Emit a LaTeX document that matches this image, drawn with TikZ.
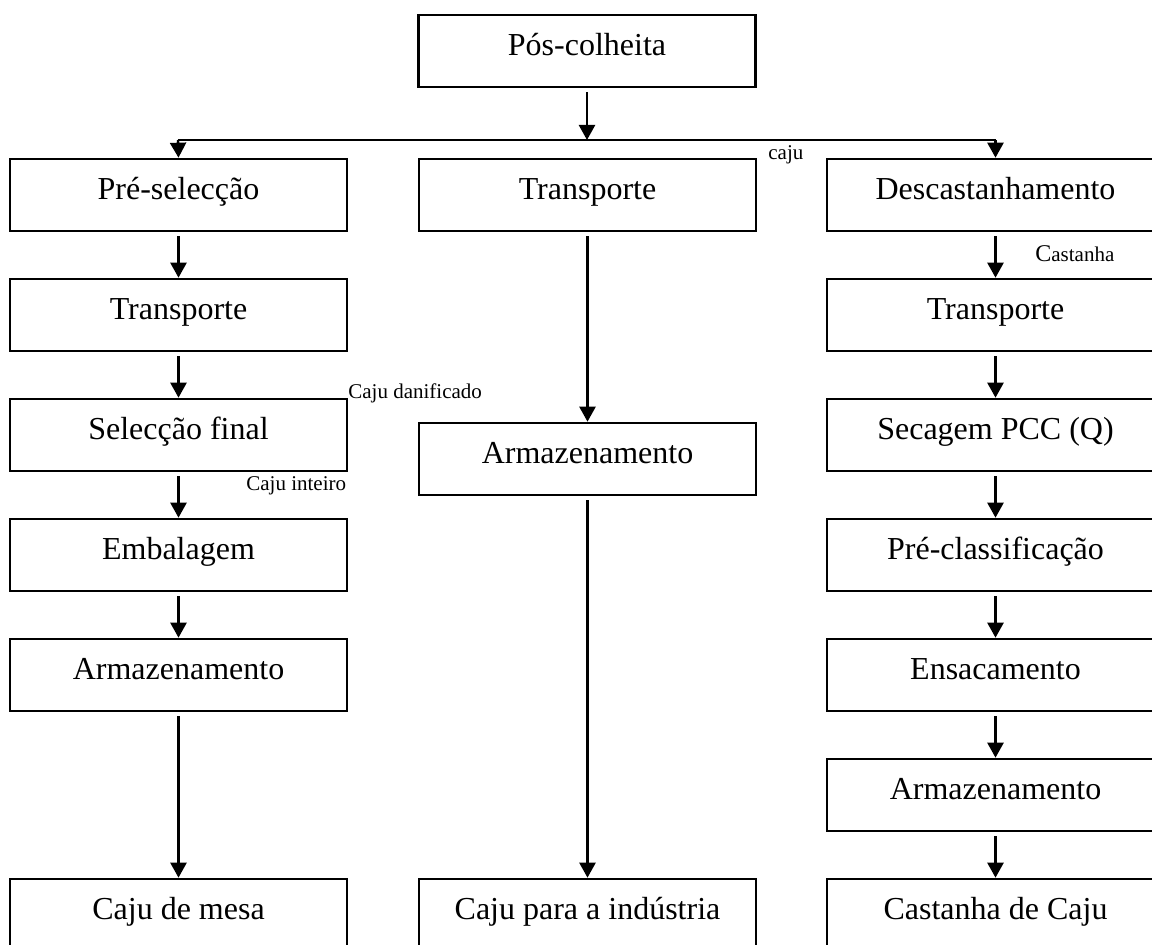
\documentclass[tikz,border=0pt]{standalone}
\usepackage{fontspec}
\setmainfont{Liberation Serif}
\usetikzlibrary{arrows.meta}
\begin{document}
\begin{tikzpicture}[x=0.5pt,y=-0.5pt,
  box/.style={draw,line width=1.3pt,minimum width=168.5pt,minimum height=36pt,inner sep=0pt,
    font=\fontsize{16}{19}\selectfont,text height=10.5pt,text depth=5.5pt},
  arr/.style={line width=1.2pt,-{Triangle[width=8pt,length=7.5pt]}},
  lbl/.style={font=\fontsize{10.5}{12}\selectfont,anchor=base west,inner sep=0pt}]
\useasboundingbox (0,0) rectangle (1152,945);
\clip (0,0) rectangle (1152,945);
% top
\node[box] (pos) at (587,51) {Pós-colheita};
\coordinate (split) at (587,140);
% left column
\node[box] (pre)  at (178.5,195) {Pré-selecção};
\node[box] (tl)   at (178.5,315) {Transporte};
\node[box] (self) at (178.5,435) {Selecção final};
\node[box] (emb)  at (178.5,555) {Embalagem};
\node[box] (arml) at (178.5,675) {Armazenamento};
\node[box] (mesa) at (178.5,915) {Caju de mesa};
% middle column
\node[box] (tm)   at (587.5,195) {Transporte};
\node[box] (armm) at (587.5,459) {Armazenamento};
\node[box] (ind)  at (587.5,915) {Caju para a indústria};
% right column
\node[box] (desc) at (995.5,195) {Descastanhamento};
\node[box] (tr)   at (995.5,315) {Transporte};
\node[box] (sec)  at (995.5,435) {Secagem PCC (Q)};
\node[box] (prc)  at (995.5,555) {Pré-classificação};
\node[box] (ens)  at (995.5,675) {Ensacamento};
\node[box] (armr) at (995.5,795) {Armazenamento};
\node[box] (cast) at (995.5,915) {Castanha de Caju};
% labels
\node[lbl] (lcaju) at (768,160) {caju};
\node[lbl] (lcast) at (1035,262) {{\fontsize{12}{12}\selectfont C}astanha};
\node[lbl] (ldan)  at (348,399) {Caju danificado};
\node[lbl] (lint)  at (246,491) {Caju inteiro};
% connectors
\draw[arr] ([yshift=-2pt]pos.south) -- (split);
\draw[line width=1.2pt] (split) -- ++(-409,0) coordinate (splitl);
\draw[line width=1.2pt] (split) -- ++(408.5,0) coordinate (splitr);
\draw[arr] (splitl) -- (pre.north);
\draw[arr] (splitr) -- (desc.north);
\draw[arr] ([yshift=-2pt]pre.south) -- (tl.north);
\draw[arr] ([yshift=-2pt]tl.south) -- (self.north);
\draw[arr] ([yshift=-2pt]self.south) -- (emb.north);
\draw[arr] ([yshift=-2pt]emb.south) -- (arml.north);
\draw[arr] ([yshift=-2pt]arml.south) -- (mesa.north);
\draw[arr] ([yshift=-2pt]tm.south) -- (armm.north);
\draw[arr] ([yshift=-2pt]armm.south) -- (ind.north);
\draw[arr] ([yshift=-2pt]desc.south) -- (tr.north);
\draw[arr] ([yshift=-2pt]tr.south) -- (sec.north);
\draw[arr] ([yshift=-2pt]sec.south) -- (prc.north);
\draw[arr] ([yshift=-2pt]prc.south) -- (ens.north);
\draw[arr] ([yshift=-2pt]ens.south) -- (armr.north);
\draw[arr] ([yshift=-2pt]armr.south) -- (cast.north);
\end{tikzpicture}
\end{document}
